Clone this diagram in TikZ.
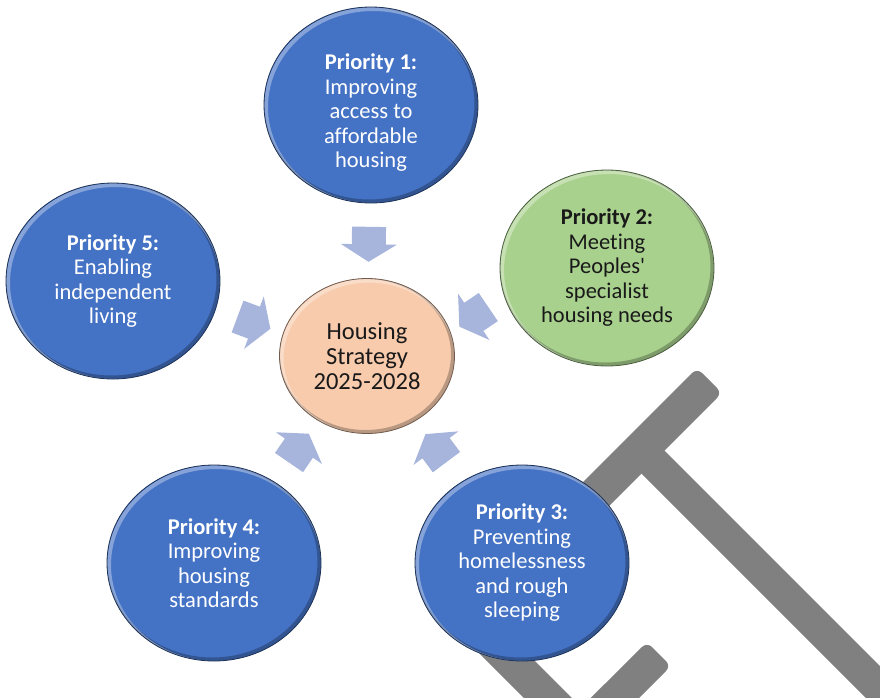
\documentclass[tikz,border=0pt]{standalone}
\usepackage{fontspec}
\setmainfont{Carlito}[Ligatures=NoCommon]
\usepackage{tikz}
\usetikzlibrary{calc,shapes.geometric}
\definecolor{prioblue}{HTML}{4472C4}
\definecolor{priogreen}{HTML}{A9D18E}
\definecolor{hubpeach}{HTML}{F8CBAD}
\definecolor{arrowpale}{HTML}{A7B5DD}
\definecolor{markgrey}{HTML}{808080}

\begin{document}
\begin{tikzpicture}[x=1pt,y=-1pt,
  bevel/.style={path picture={
    \draw[black,opacity=.25,line width=4pt]
      let \p1=($(path picture bounding box.north east)-(path picture bounding box.center)$) in
      ([shift={(-1.5pt,1.5pt)}]path picture bounding box.center) ellipse [x radius=\x1,y radius=\y1];
    \draw[white,opacity=.35,line width=4pt]
      let \p1=($(path picture bounding box.north east)-(path picture bounding box.center)$) in
      ([shift={(2pt,-2pt)}]path picture bounding box.center) ellipse [x radius=\x1,y radius=\y1];}},
  bubbletext/.style={align=center,text=white,font=\fontsize{22.5}{24.5}\selectfont},
  bubble/.style={ellipse,minimum width=214pt,minimum height=196pt,inner sep=0pt,bubbletext,
    fill=prioblue,draw=prioblue!45!black,line width=.8pt,bevel},
  flow/.pic={\fill[arrowpale] (-17.5,-17) -- (0,-17) -- (0,-28) -- (17.5,0) -- (0,28) -- (0,17) -- (-17.5,17) -- cycle;}]
  \useasboundingbox (0,0) rectangle (880,697);
  \begin{scope}
    \clip (0,0) rectangle (880,697);
    \fill[markgrey,rounded corners=7pt] (697,368) -- (722,393) -- (584,531) -- (559,506) -- cycle;
    \fill[markgrey,rounded corners=7pt] (634,466) -- (657,443) -- (907,693) -- (884,716) -- cycle;
    \fill[markgrey,rounded corners=7pt] (647,642) -- (671,666) -- (519,819) -- (494,794) -- cycle;
    \fill[markgrey] (463,637) -- (487,613) -- (597,723) -- (573,747) -- cycle;
  \end{scope}
  \node[bubble,label={[name=p1text,bubbletext,yshift=-8pt]center:{\textbf{Priority 1:}\\Improving\\access to\\affordable\\housing}}]
    (p1) at (371,105) {};
  \node[bubble,fill=priogreen,draw=priogreen!45!black,text=black!90] (p2) at (607,268)
    {\textbf{Priority 2:}\\Meeting\\Peoples\textquotesingle\\specialist\\housing needs};
  \node[bubble] (p3) at (522,563) {\textbf{Priority 3:}\\Preventing\\homelessness\\and rough\\sleeping};
  \node[bubble] (p4) at (214,563) {\textbf{Priority 4:}\\Improving\\housing\\standards};
  \node[bubble] (p5) at (113,281) {\textbf{Priority 5:}\\Enabling\\independent\\living};
  \node[bubble,minimum width=175pt,minimum height=155pt,fill=hubpeach,draw=hubpeach!45!black,
    text=black!90,font=\fontsize{24.5}{25}\selectfont] (hub) at (367,356) {Housing\\Strategy\\2025-2028};
  % arrows into the hub, a little turned where needed
  \foreach \s/\t in {p1/0,p2/14,p3/0,p4/2,p5/-4}
    \path let \p1=($(hub)-(\s)$), \n1={atan2(\y1,\x1)+\t} in
      pic[rotate=\n1] at ($(\s)!0.555!(hub)$) {flow};
\end{tikzpicture}
\end{document}
